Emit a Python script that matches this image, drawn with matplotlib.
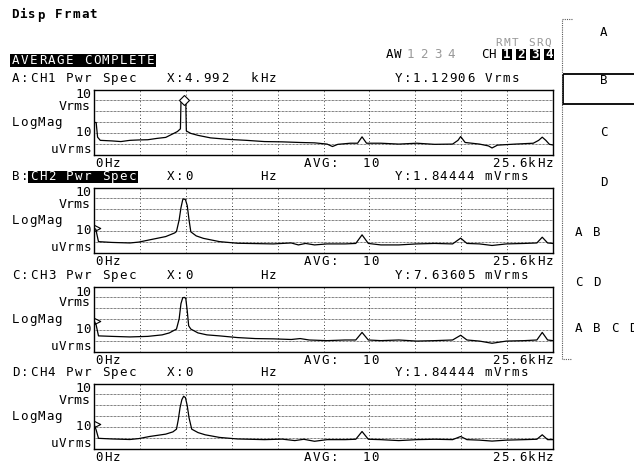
import matplotlib
matplotlib.use('Agg')
import matplotlib.pyplot as plt
from matplotlib.patches import Rectangle
from matplotlib.ticker import NullLocator
import numpy as np

# screen geometry (pixels) and character pitch of the analyzer font
W, H = 634, 466
PITCH = 9.0
MONO = 'DejaVu Sans Mono'
FS = 9

span_khz = 25.6

# CH1: trace A
freq_a = [0.0, 0.12, 0.2, 0.35, 1.0, 1.5, 2.0, 2.5, 3.0, 3.5, 4.0, 4.4, 4.65, 4.82,
          4.85, 4.95, 5.05, 5.12, 5.15, 5.4, 5.8, 6.5, 7.5, 8.5, 9.5, 10.5, 11.5,
          12.3, 13.0, 13.3, 13.6, 14.3, 14.7, 14.95, 15.2, 16.0, 17.0, 18.0, 19.0,
          20.0, 20.3, 20.45, 20.7, 21.5, 22.0, 22.2, 22.5, 23.5, 24.5, 24.8, 25.0,
          25.2, 25.4, 25.6]
mag_a = [9.5e-3, 9.5e-3, 4.3e-4, 2.2e-4, 1.95e-4, 1.7e-4, 2.2e-4, 2.4e-4, 2.5e-4,
         3.3e-4, 4.1e-4, 8.7e-4, 1.4e-3, 2.5e-3, 0.63, 1.13, 0.95, 0.63, 1.6e-3,
         9.5e-4, 6.3e-4, 3.7e-4, 2.7e-4, 2.2e-4, 1.7e-4, 1.6e-4, 1.4e-4, 1.3e-4,
         1.0e-4, 6.0e-5, 9.5e-5, 1.2e-4, 1.2e-4, 4.6e-4, 1.2e-4, 1.2e-4, 1.0e-4,
         1.2e-4, 9.5e-5, 1.0e-4, 2.2e-4, 4.9e-4, 1.4e-4, 1.0e-4, 6.8e-5, 4.4e-5,
         8.0e-5, 1.0e-4, 1.2e-4, 2.2e-4, 4.3e-4, 2.2e-4, 9.5e-5, 8.3e-5]

# CH2: trace B
freq_b = [0.0, 0.1, 0.25, 1.0, 2.0, 2.5, 3.1, 4.0, 4.5, 4.6, 4.75, 4.85, 4.95, 5.0,
          5.1, 5.2, 5.3, 5.4, 5.7, 6.1, 7.0, 8.0, 10.0, 11.0, 11.4, 11.8, 12.3,
          13.0, 14.0, 14.6, 14.95, 15.3, 16.0, 17.0, 18.0, 19.0, 20.0, 20.45, 20.8,
          21.5, 22.2, 23.0, 24.0, 24.7, 25.0, 25.3, 25.6]
mag_b = [1.84e-3, 1.5e-3, 1.1e-4, 9.3e-5, 8.3e-5, 1.0e-4, 1.6e-4, 3.2e-4, 6.9e-4,
         9.3e-4, 1.1e-2, 0.14, 0.78, 0.9, 0.78, 0.22, 1.1e-2, 8.7e-4, 3.7e-4,
         2.2e-4, 1.1e-4, 7.8e-5, 6.8e-5, 8.3e-5, 5.5e-5, 7.5e-5, 5.5e-5, 6.8e-5,
         6.8e-5, 7.5e-5, 4.6e-4, 7.5e-5, 5.5e-5, 5.5e-5, 6.8e-5, 7.5e-5, 6.8e-5,
         2.3e-4, 7.5e-5, 6.8e-5, 4.9e-5, 6.8e-5, 7.5e-5, 8.3e-5, 2.8e-4, 8.3e-5,
         7.5e-5]

# CH3: trace C
freq_c = [0.0, 0.12, 0.25, 1.0, 2.0, 3.0, 3.8, 4.2, 4.6, 4.75, 4.85, 4.95, 5.05,
          5.12, 5.2, 5.28, 5.4, 5.8, 6.3, 7.0, 8.0, 9.0, 10.0, 11.0, 11.5, 12.0,
          13.0, 14.0, 14.6, 14.95, 15.3, 16.0, 17.0, 18.0, 19.0, 20.0, 20.45, 20.8,
          21.5, 22.2, 23.0, 24.0, 24.7, 25.0, 25.3, 25.6]
mag_c = [7.6e-3, 3.0e-3, 3.0e-4, 2.7e-4, 2.4e-4, 2.7e-4, 3.7e-4, 5.6e-4, 1.26e-3,
         1.1e-2, 0.27, 0.95, 1.0, 0.78, 6.0e-2, 2.5e-3, 1.26e-3, 5.6e-4, 3.7e-4,
         3.0e-4, 2.1e-4, 1.7e-4, 1.6e-4, 1.4e-4, 1.7e-4, 1.26e-4, 1.1e-4, 1.26e-4,
         1.26e-4, 6.2e-4, 1.26e-4, 1.1e-4, 1.26e-4, 1.0e-4, 1.1e-4, 1.26e-4,
         3.4e-4, 1.26e-4, 1.0e-4, 6.3e-5, 1.0e-4, 1.1e-4, 1.26e-4, 6.2e-4, 1.26e-4,
         1.1e-4]

# CH4: trace D
freq_d = [0.0, 0.12, 0.25, 1.0, 2.0, 2.5, 3.1, 4.0, 4.4, 4.6, 4.7, 4.8, 4.9, 5.0,
          5.1, 5.2, 5.3, 5.45, 5.8, 6.2, 7.0, 8.0, 9.5, 10.5, 11.2, 11.7, 12.3,
          13.0, 14.0, 14.6, 14.95, 15.3, 16.0, 17.0, 18.0, 19.0, 20.0, 20.45, 20.8,
          21.5, 22.2, 23.0, 24.0, 24.7, 25.0, 25.3, 25.6]
mag_d = [1.84e-3, 5.6e-4, 9.5e-5, 8.3e-5, 7.4e-5, 9.0e-5, 1.4e-4, 2.3e-4, 3.7e-4,
         6.6e-4, 4.8e-3, 6.2e-2, 0.33, 0.68, 0.51, 9.3e-2, 7.3e-3, 6.6e-4, 3.2e-4,
         2.0e-4, 1.15e-4, 8.3e-5, 7.2e-5, 8.0e-5, 5.9e-5, 7.8e-5, 5.1e-5, 7.2e-5,
         7.2e-5, 7.8e-5, 4.0e-4, 7.8e-5, 7.2e-5, 5.9e-5, 7.2e-5, 7.8e-5, 7.2e-5,
         1.4e-4, 7.2e-5, 6.5e-5, 5.3e-5, 6.5e-5, 7.2e-5, 7.8e-5, 2.0e-4, 7.2e-5,
         7.2e-5]

trace_ids = ['A', 'B', 'C', 'D']
channels = ['CH1', 'CH2', 'CH3', 'CH4']
x_readout = ['4.992', '0', '0', '0']
x_unit = ['kHz', 'Hz', 'Hz', 'Hz']
y_readout = ['1.12906 Vrms', '1.84444 mVrms', '7.63605 mVrms', '1.84444 mVrms']
marker_x = [4.992, 0.0, 0.0, 0.0]
marker_y = [1.12906, 1.84444e-3, 7.63605e-3, 1.84444e-3]
avg_count = '10'
softkeys = ['A', 'B', 'C', 'D', 'A B', 'C D', 'A B C D']

freqs = [freq_a, freq_b, freq_c, freq_d]
mags = [mag_a, mag_b, mag_c, mag_d]

# panel layout in screen pixels
panel_left, panel_right = 94, 553
panel_tops = [89.5, 187.5, 286.5, 383.5]
panel_h = 65.5

fig = plt.figure(figsize=(W / 100, H / 100), dpi=100)
bg = fig.add_axes([0, 0, 1, 1])
bg.set_xlim(0, W)
bg.set_ylim(H, 0)
bg.axis('off')


def term(x, y, s, color='k', ha='left', box=None, pitch=PITCH, fs=FS, weight='normal'):
    # fixed-pitch text, one glyph per cell like the analyzer screen
    n = len(s)
    if ha == 'right':
        x = x - n * pitch
    if box is not None:
        bg.add_patch(Rectangle((x - 1, y - 6), n * pitch + 2, 12.5, color=box, lw=0))
    for i, ch in enumerate(s):
        if ch == ' ':
            continue
        bg.text(x + (i + 0.5) * pitch, y, ch, ha='center', va='center',
                family=MONO, fontsize=fs, color=color, weight=weight)


# title and status line
term(10, 15, 'Disp Frmat', pitch=8.8, weight='bold')
term(11, 60, 'AVERAGE COMPLETE', color='white', box='black')
term(495, 43, 'RMT SRQ', color='0.6', pitch=8.1, fs=8)
term(386, 54, 'AW', pitch=7.5)
for i, d in enumerate(['1', '2', '3', '4']):
    bg.text(410.5 + i * 13.6, 54, d, ha='center', va='center', family=MONO,
            fontsize=FS, color='0.6')
term(481, 54, 'CH', pitch=7.5)
for i, d in enumerate(['1', '2', '3', '4']):
    cx = 506.7 + i * 14.2
    bg.add_patch(Rectangle((cx - 5, 48.5), 10, 11, color='black', lw=0))
    bg.text(cx, 54, d, ha='center', va='center', family=MONO, fontsize=FS,
            color='white', weight='bold')

# softkey column
bg.plot([572, 561.7, 561.7, 572], [19.3, 19.3, 359.3, 359.3], color='0.35',
        lw=0.8, ls=(0, (1, 1)))
bg.add_patch(Rectangle((563.3, 74), 90, 30, fill=False, ec='black', lw=1.3))
soft_y = [32, 81, 132, 182, 233, 282, 329]
for lab, sy in zip(softkeys, soft_y):
    if len(lab) == 1:
        term(604 - PITCH / 2, sy, lab)
    else:
        term(574, sy, lab, pitch=9.0)

for k in range(4):
    top = panel_tops[k]
    bottom = top + panel_h
    ax = fig.add_axes([panel_left / W, 1 - bottom / H,
                       (panel_right - panel_left) / W, panel_h / H])
    ax.set_facecolor('none')
    ax.plot(freqs[k], mags[k], color='black', lw=0.9)
    if k == 0:
        ax.plot(marker_x[k], marker_y[k], marker='D', ms=5, mfc='white',
                mec='black', mew=0.8, zorder=5)
    else:
        ax.plot(marker_x[k], marker_y[k], marker=[(0, 1), (2, 0), (0, -1)], ms=9,
                mfc='none', mec='black', mew=0.8, clip_on=False, zorder=5)
    ax.set_yscale('log')
    ax.set_xlim(0, span_khz)
    ax.set_ylim(1e-5, 10)
    ax.set_xticks(np.arange(11) * span_khz / 10)
    ax.set_yticks(10.0 ** np.arange(-5, 2))
    ax.yaxis.set_minor_locator(NullLocator())
    ax.tick_params(length=0, labelbottom=False, labelleft=False)
    ax.xaxis.grid(True, color='black', lw=0.6, ls=(0, (1, 3)))
    ax.yaxis.grid(True, color='black', lw=0.5, ls=(0, (1, 1)))
    for sp in ax.spines.values():
        sp.set_linewidth(1.0)

    # header line
    hy = top - 11
    term(11, hy, trace_ids[k] + ':')
    term(29, hy, channels[k] + ' Pwr Spec', color='white' if k == 1 else 'black',
         box='black' if k == 1 else None)
    term(166, hy, 'X:' + x_readout[k])
    term(277, hy, x_unit[k], ha='right')
    term(394, hy, 'Y:' + y_readout[k])

    # y scale labels (top one as a single two-line text)
    bg.text(91, top + 11, '10\nVrms', ha='right', va='center', ma='right',
            family=MONO, fontsize=9.5, linespacing=0.8)
    term(11, top + 33, 'LogMag', pitch=8.6)
    term(91, top + 43, '10', ha='right', pitch=8.0)
    term(91, top + 60, 'uVrms', ha='right', pitch=8.2)

    # footer line
    fy = top + 74
    term(94, fy, '0Hz')
    term(303, fy, 'AVG:')
    term(362, fy, avg_count)
    term(554, fy, '25.6kHz', ha='right')

fig.savefig('out.png', dpi=100)
